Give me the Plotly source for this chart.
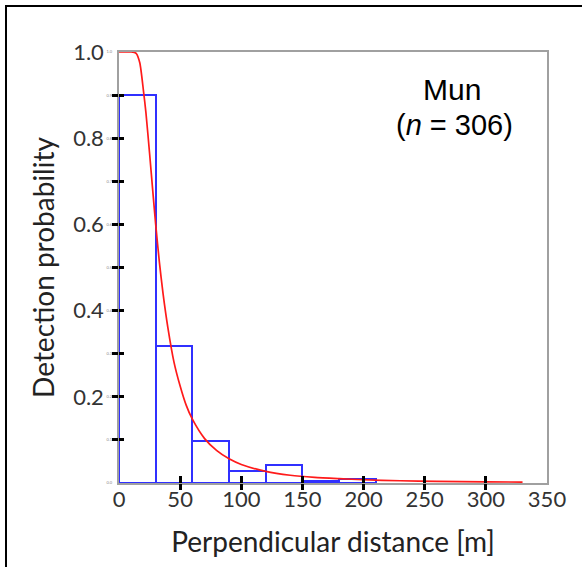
import plotly.graph_objects as go

# ---- data ----
bin_left = [0, 30, 60, 90, 120, 150, 180]
bin_width = 30
bin_height = [0.90, 0.317, 0.098, 0.028, 0.042, 0.005, 0.009]

curve_x = [0, 10, 14, 17, 20, 22, 25, 28, 30, 33, 36, 40, 45, 50, 55, 60, 70, 80, 90,
           100, 120, 140, 160, 180, 200, 230, 260, 300, 330]
curve_y = [1.0, 1.0, 0.997, 0.975, 0.91, 0.86, 0.765, 0.665, 0.60, 0.513, 0.44, 0.36,
           0.28, 0.225, 0.18, 0.148, 0.103, 0.075, 0.056, 0.043, 0.027, 0.018, 0.013,
           0.010, 0.0075, 0.0052, 0.0038, 0.0027, 0.0021]

y_label_vals = [0.2, 0.4, 0.6, 0.8, 1.0]
y_label_text = ["0.2", "0.4", "0.6", "0.8", "1.0"]
y_tick_vals = [0.1, 0.2, 0.3, 0.4, 0.5, 0.6, 0.7, 0.8, 0.9]
y_tiny_vals = [0.0, 0.1, 0.2, 0.3, 0.4, 0.5, 0.6, 0.7, 0.8, 0.9, 1.0]
y_tiny_text = ["0.0", "0.1", "0.2", "0.3", "0.4", "0.5", "0.6", "0.7", "0.8", "0.9", "1.0"]
x_label_vals = [0, 50, 100, 150, 200, 250, 300, 350]
x_tick_vals = [50, 100, 150, 200, 250, 300]

XR = [0, 350]
YR = [0, 1]
W, H = 582, 567
ML, MR, MT, MB = 119, 35, 52, 84

FONT = "Lato, Open Sans, sans-serif"
AX_GRAY = "#a0a0a0"

fig = go.Figure()

fig.add_trace(go.Bar(
    x=[b + bin_width / 2 for b in bin_left], y=bin_height, width=bin_width,
    marker=dict(color="rgba(0,0,0,0)", line=dict(color="#3030ff", width=2)),
    showlegend=False, hoverinfo="skip"))

fig.add_trace(go.Scatter(
    x=curve_x, y=curve_y, mode="lines",
    line=dict(color="#ff1a1a", width=1.7, shape="spline", smoothing=0.6),
    showlegend=False, hoverinfo="skip"))

# dummy traces so overlay axes are drawn
for xa, ya in [("x2", "y"), ("x3", "y"), ("x", "y2"), ("x", "y3"), ("x", "y4")]:
    fig.add_trace(go.Scatter(x=[None], y=[None], xaxis=xa, yaxis=ya,
                             showlegend=False, hoverinfo="skip"))

fig.update_layout(
    width=W, height=H,
    margin=dict(l=ML, r=MR, t=MT, b=MB),
    paper_bgcolor="white", plot_bgcolor="white",
    bargap=0,
    xaxis=dict(range=XR, tickvals=x_label_vals, ticks="", showgrid=False, zeroline=False,
               showline=True, linecolor=AX_GRAY, linewidth=1.5, mirror=True,
               ticklabelstandoff=-4,
               tickfont=dict(family=FONT, size=22, color="#333333"),
               title=dict(text="Perpendicular distance [m]",
                          font=dict(family=FONT, size=28, color="#222222"), standoff=21)),
    xaxis2=dict(range=XR, overlaying="x", anchor="y", side="bottom", tickvals=x_tick_vals,
                ticks="outside", ticklen=6, tickwidth=2.5, tickcolor="black",
                showticklabels=False, showgrid=False, zeroline=False, showline=False),
    xaxis3=dict(range=XR, overlaying="x", anchor="y", side="bottom", tickvals=x_tick_vals,
                ticks="inside", ticklen=7, tickwidth=2.5, tickcolor="black",
                showticklabels=False, showgrid=False, zeroline=False, showline=False),
    yaxis=dict(range=YR, tickvals=y_label_vals, ticktext=y_label_text, ticks="",
               showgrid=False, zeroline=False,
               showline=True, linecolor=AX_GRAY, linewidth=1.5, mirror=True,
               ticklabelstandoff=9,
               tickfont=dict(family=FONT, size=22, color="#333333"),
               title=dict(text="Detection probability",
                          font=dict(family=FONT, size=28, color="#222222"), standoff=10)),
    yaxis2=dict(range=YR, overlaying="y", anchor="x", side="left", tickvals=y_tiny_vals,
                ticktext=y_tiny_text, ticks="", showgrid=False, zeroline=False,
                showline=False, ticklabelstandoff=6,
                tickfont=dict(family=FONT, size=4, color="#888888")),
    yaxis3=dict(range=YR, overlaying="y", anchor="x", side="left", tickvals=y_tick_vals,
                ticks="outside", ticklen=6, tickwidth=2.5, tickcolor="black",
                showticklabels=False, showgrid=False, zeroline=False, showline=False),
    yaxis4=dict(range=YR, overlaying="y", anchor="x", side="left", tickvals=y_tick_vals,
                ticks="inside", ticklen=5, tickwidth=2.5, tickcolor="black",
                showticklabels=False, showgrid=False, zeroline=False, showline=False),
)

fig.add_annotation(x=272, y=0.912, xref="x", yref="y", text="Mun", showarrow=False,
                   font=dict(family="Liberation Sans, Arial", size=30, color="black"))
fig.add_annotation(x=274, y=0.830, xref="x", yref="y", text="(<i>n</i> = 306)",
                   showarrow=False,
                   font=dict(family="Liberation Sans, Arial", size=29, color="black"))

# outer frame of the figure panel
pw, ph = W - ML - MR, H - MT - MB
fig.add_shape(type="rect", xref="paper", yref="paper",
              x0=(6 - ML) / pw, x1=(W + 20 - ML) / pw,
              y0=-(H + 20 - MT - ph) / ph, y1=(ph + MT - 6) / ph,
              line=dict(color="black", width=2), fillcolor="rgba(0,0,0,0)", layer="above")

fig.write_html("out.html", config={"displayModeBar": False},
               post_script="document.body.style.margin='0';")
